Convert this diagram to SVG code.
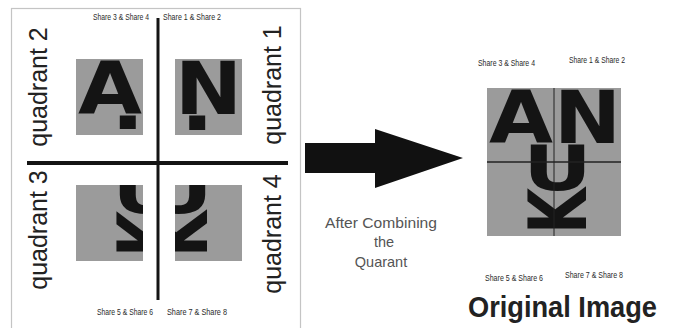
<svg xmlns="http://www.w3.org/2000/svg" xmlns:xlink="http://www.w3.org/1999/xlink" width="676" height="328" viewBox="0 0 676 328">
<style>
.q{font-family:"Liberation Sans",Arial,sans-serif;font-size:25px;fill:#222;text-anchor:middle}
.sh{font-family:"Liberation Sans",Arial,sans-serif;font-size:9px;fill:#2a2a2a}
.big{font-family:"DejaVu Sans",sans-serif;font-weight:bold;fill:#141414}
.cap{font-family:"Liberation Sans",Arial,sans-serif;font-size:14.5px;fill:#555;text-anchor:middle}
.tile{fill:#9b9b9b}
</style>
<defs>
<g id="letters">
<text class="big" x="489" y="143" font-size="73" textLength="64" lengthAdjust="spacingAndGlyphs">A</text>
<text class="big" x="554" y="143" font-size="73" textLength="67" lengthAdjust="spacingAndGlyphs">N</text>
<text class="big" x="523" y="190" font-size="62" textLength="69" lengthAdjust="spacingAndGlyphs">U</text>
<text class="big" transform="translate(586,234) rotate(-90)" x="0" y="0" font-size="80" textLength="46" lengthAdjust="spacingAndGlyphs">K</text>
</g>
<clipPath id="c2"><rect x="76" y="59" width="67" height="70"/></clipPath>
<clipPath id="c1"><rect x="175" y="59" width="67" height="71"/></clipPath>
<clipPath id="c3"><rect x="76" y="185" width="67" height="76"/></clipPath>
<clipPath id="c4"><rect x="175" y="185" width="67" height="76"/></clipPath>
<clipPath id="cc"><rect x="487" y="88" width="134" height="148"/></clipPath>
</defs>
<rect width="676" height="328" fill="#fff"/>
<g id="panel">
<rect x="11.5" y="8.5" width="289" height="330" fill="none" stroke="#c4c4c4" stroke-width="1.2"/>
<line x1="158" y1="18" x2="158" y2="300" stroke="#141414" stroke-width="3"/>
<line x1="27" y1="163" x2="288" y2="163" stroke="#141414" stroke-width="4"/>
<text class="sh" x="93" y="20" textLength="56" lengthAdjust="spacingAndGlyphs">Share 3 &amp; Share 4</text>
<text class="sh" x="163" y="20" textLength="58" lengthAdjust="spacingAndGlyphs">Share 1 &amp; Share 2</text>
<text class="sh" x="97" y="315" textLength="56" lengthAdjust="spacingAndGlyphs">Share 5 &amp; Share 6</text>
<text class="sh" x="167" y="315" textLength="60" lengthAdjust="spacingAndGlyphs">Share 7 &amp; Share 8</text>
</g>
<g id="q2">
<rect class="tile" x="76" y="59" width="67" height="76"/>
<g clip-path="url(#c2)"><use xlink:href="#letters" transform="translate(-411,-29)"/></g>
<text class="q" transform="translate(47,87) rotate(-90)">quadrant 2</text>
</g>
<g id="q1">
<rect class="tile" x="175" y="59" width="67" height="76"/>
<g clip-path="url(#c1)"><use xlink:href="#letters" transform="translate(-379,-29)"/></g>
<text class="q" transform="translate(281,85) rotate(-90)">quadrant 1</text>
</g>
<g id="q3">
<rect class="tile" x="76" y="185" width="67" height="76"/>
<g clip-path="url(#c3)"><use xlink:href="#letters" transform="translate(-411,23)"/></g>
<text class="q" transform="translate(47,230) rotate(-90)">quadrant 3</text>
</g>
<g id="q4">
<rect class="tile" x="175" y="185" width="67" height="76"/>
<g clip-path="url(#c4)"><use xlink:href="#letters" transform="translate(-379,23)"/></g>
<text class="q" transform="translate(281,234) rotate(-90)">quadrant 4</text>
</g>
<g id="connectors">
<polygon points="305,143 375,143 375,129 463,158 375,188 375,173 305,173" fill="#111"/>
<text class="cap" x="381" y="228" textLength="112" lengthAdjust="spacingAndGlyphs">After Combining</text>
<text class="cap" x="384" y="247">the</text>
<text class="cap" x="381" y="267">Quarant</text>
</g>
<g id="original">
<rect class="tile" x="487" y="88" width="134" height="148"/>
<g clip-path="url(#cc)"><use xlink:href="#letters"/></g>
<line x1="554" y1="88" x2="554" y2="236" stroke="#222" stroke-width="1"/>
<line x1="487" y1="162" x2="621" y2="162" stroke="#222" stroke-width="1.3"/>
<text class="sh" x="478" y="66" textLength="57" lengthAdjust="spacingAndGlyphs">Share 3 &amp; Share 4</text>
<text class="sh" x="569" y="63" textLength="56" lengthAdjust="spacingAndGlyphs">Share 1 &amp; Share 2</text>
<text class="sh" x="485" y="281" textLength="58" lengthAdjust="spacingAndGlyphs">Share 5 &amp; Share 6</text>
<text class="sh" x="565" y="278" textLength="58" lengthAdjust="spacingAndGlyphs">Share 7 &amp; Share 8</text>
<text x="468" y="317" font-family="'Liberation Sans',Arial,sans-serif" font-weight="bold" font-size="29" fill="#222" textLength="189" lengthAdjust="spacingAndGlyphs">Original Image</text>
</g>
</svg>
